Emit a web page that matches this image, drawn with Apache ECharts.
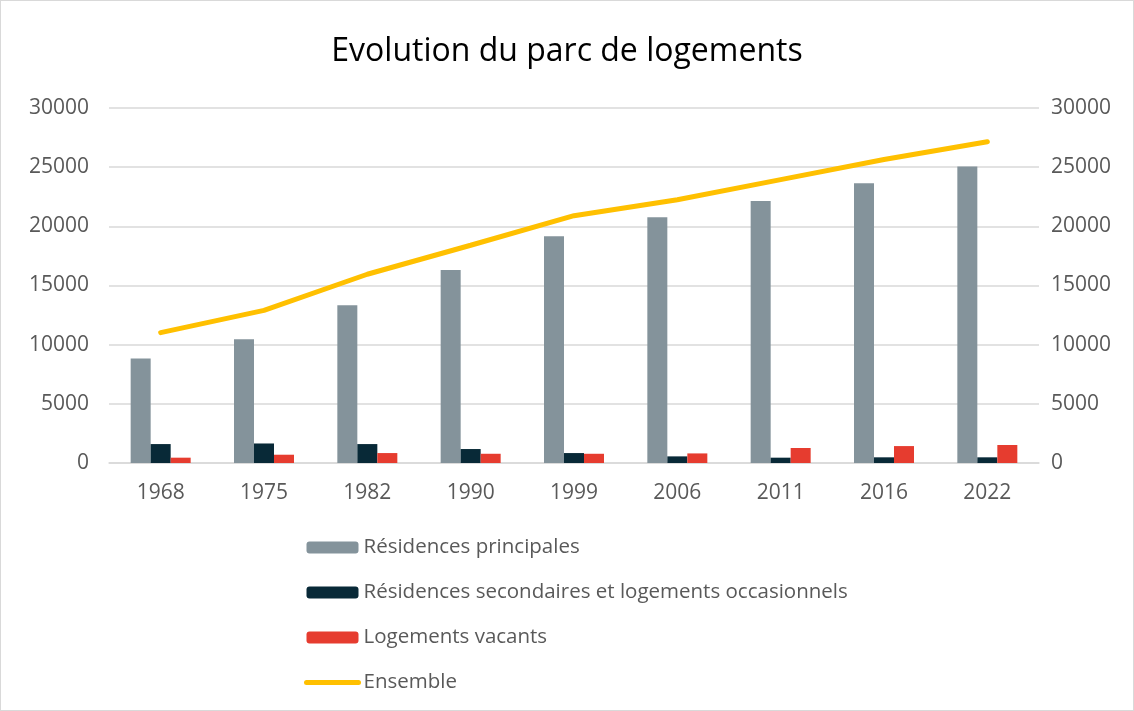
<!DOCTYPE html>
<html>
<head>
<meta charset="utf-8">
<script src="https://cdn.jsdelivr.net/npm/echarts@6/dist/echarts.min.js"></script>
<style>
  html, body { margin: 0; padding: 0; background: #fff; }
  #chart { width: 1132px; height: 709px; border: 1px solid #d9d9d9; }
</style>
</head>
<body>
<div id="chart"></div>
<script>
// données
var annees = ['1968', '1975', '1982', '1990', '1999', '2006', '2011', '2016', '2022'];
var principales = [8830, 10460, 13330, 16310, 19160, 20760, 22140, 23650, 25060];
var secondaires = [1600, 1650, 1600, 1180, 840, 560, 450, 480, 480];
var vacants = [450, 700, 840, 780, 780, 810, 1270, 1430, 1520];
var ensemble = [11020, 12900, 15950, 18400, 20900, 22250, 23950, 25650, 27150];

var police = 'Open Sans';
var gris = '#595959';

var chart = echarts.init(document.getElementById('chart'));

// pas de séparateur de milliers
function brut(v) { return String(v); }

var option = {
  animation: false,
  textStyle: { fontFamily: police },
  title: {
    text: 'Evolution du parc de logements',
    left: 'center',
    top: 30,
    textStyle: { fontFamily: police, fontSize: 32, fontWeight: 'normal', color: '#000' }
  },
  grid: { left: 108, right: 94, top: 107, height: 355 },
  legend: {
    orient: 'vertical',
    left: 298,
    top: 531,
    itemWidth: 52,
    itemHeight: 12,
    itemGap: 24,
    textStyle: { fontFamily: police, fontSize: 20.5, color: gris },
    data: [
      'Résidences principales',
      'Résidences secondaires et logements occasionnels',
      'Logements vacants',
      { name: 'Ensemble', itemStyle: { opacity: 0 }, lineStyle: { width: 5, cap: 'round' } }
    ]
  },
  xAxis: {
    type: 'category',
    data: annees,
    axisLine: { lineStyle: { color: '#d9d9d9', width: 1.5 } },
    axisTick: { show: false },
    axisLabel: { fontSize: 21, color: gris, margin: 20 }
  },
  yAxis: [
    {
      type: 'value', min: 0, max: 30000, interval: 5000,
      splitLine: { lineStyle: { color: '#d9d9d9', width: 1.5 } },
      axisLabel: { fontSize: 21, color: gris, margin: 20, formatter: brut }
    },
    {
      type: 'value', min: 0, max: 30000, interval: 5000, position: 'right',
      splitLine: { show: false },
      axisLabel: { fontSize: 21, color: gris, margin: 12, formatter: brut }
    }
  ],
  series: [
    {
      name: 'Résidences principales', type: 'bar', data: principales,
      barWidth: 20, barGap: '0%',
      itemStyle: { color: '#84939b' }
    },
    {
      name: 'Résidences secondaires et logements occasionnels', type: 'bar', data: secondaires,
      barWidth: 20, barGap: '0%',
      itemStyle: { color: '#082937' }
    },
    {
      name: 'Logements vacants', type: 'bar', data: vacants,
      barWidth: 20, barGap: '0%',
      itemStyle: { color: '#e63c2f' }
    },
    {
      name: 'Ensemble', type: 'line', data: ensemble, yAxisIndex: 1,
      symbol: 'none',
      lineStyle: { color: '#ffc000', width: 5, cap: 'round' },
      itemStyle: { color: '#ffc000' }
    }
  ]
};

chart.setOption(option);
</script>
</body>
</html>
